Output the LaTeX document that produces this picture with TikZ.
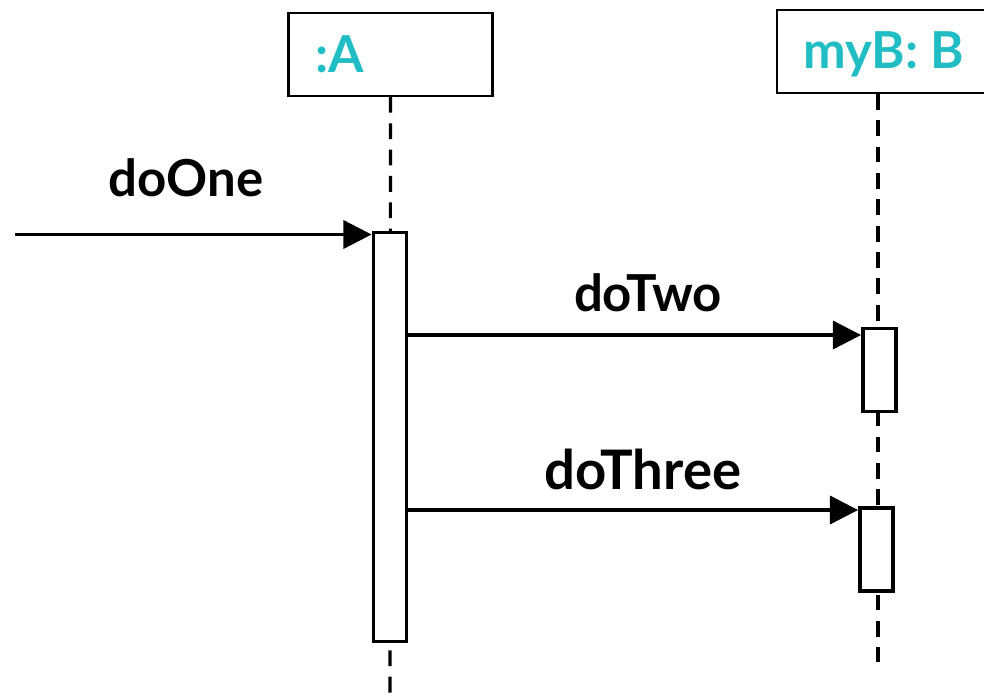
\documentclass[tikz,border=0pt]{standalone}
\usepackage{fontspec}
\setmainfont{Lato}
\usetikzlibrary{arrows.meta}

\definecolor{objcyan}{RGB}{32,190,196}

\begin{document}
\begin{tikzpicture}[x=0.02cm,y=-0.02cm,line cap=butt,line join=miter,
    objbox/.style={draw,line width=1.3pt,inner sep=0pt},
    actbox/.style={draw,fill=white,line width=2pt,inner sep=0pt,minimum width=19pt},
    lifeline/.style={line width=1.8pt,dash pattern=on 9pt off 6pt},
    msg/.style={line width=1.8pt,-{Triangle[length=16pt,width=16pt]}},
    objname/.style={anchor=base west,text=objcyan,font=\fontsize{29}{32}\selectfont\bfseries},
    msglabel/.style={anchor=base,font=\fontsize{29}{32}\selectfont\bfseries}]
  \useasboundingbox (0,0) rectangle (984,697);

  % object heads
  \node[objbox,minimum width=116pt,minimum height=47pt] (boxA) at (390.5,54.5) {};
  \node[objbox,minimum width=124pt,minimum height=47pt] (boxB) at (886,51.5) {};
  \node[objname] (nameA) at (309,72) {:A};
  \node[objname] (nameB) at (797,68) {myB: B};

  % lifelines
  \coordinate (endA) at (390,700);
  \coordinate (endB) at (878,662);
  \draw[lifeline] (boxA.south) -- (endA);
  \draw[lifeline] (boxB.south -| endB) -- (endB);

  % activations
  \node[actbox,minimum height=233pt] (actA) at (390,437) {};
  \node[actbox,minimum height=47pt] (actB1) at (879.5,370) {};
  \node[actbox,minimum height=47pt] (actB2) at (876.5,549.5) {};

  % messages
  \coordinate (caller) at (15,234.5);
  \draw[msg] (caller) -- (caller -| actA.west);
  \draw[msg] (actA.east |- 0,335) -- (actB1.west |- 0,335);
  \draw[msg] (actA.east |- 0,510) -- (actB2.west |- 0,510);
  \node[msglabel] (lblOne) at (186,196) {doOne};
  \node[msglabel] (lblTwo) at (648,311) {doTwo};
  \node[msglabel,font=\fontsize{31}{34}\selectfont\bfseries] (lblThree) at (643,489) {doThree};
\end{tikzpicture}
\end{document}
